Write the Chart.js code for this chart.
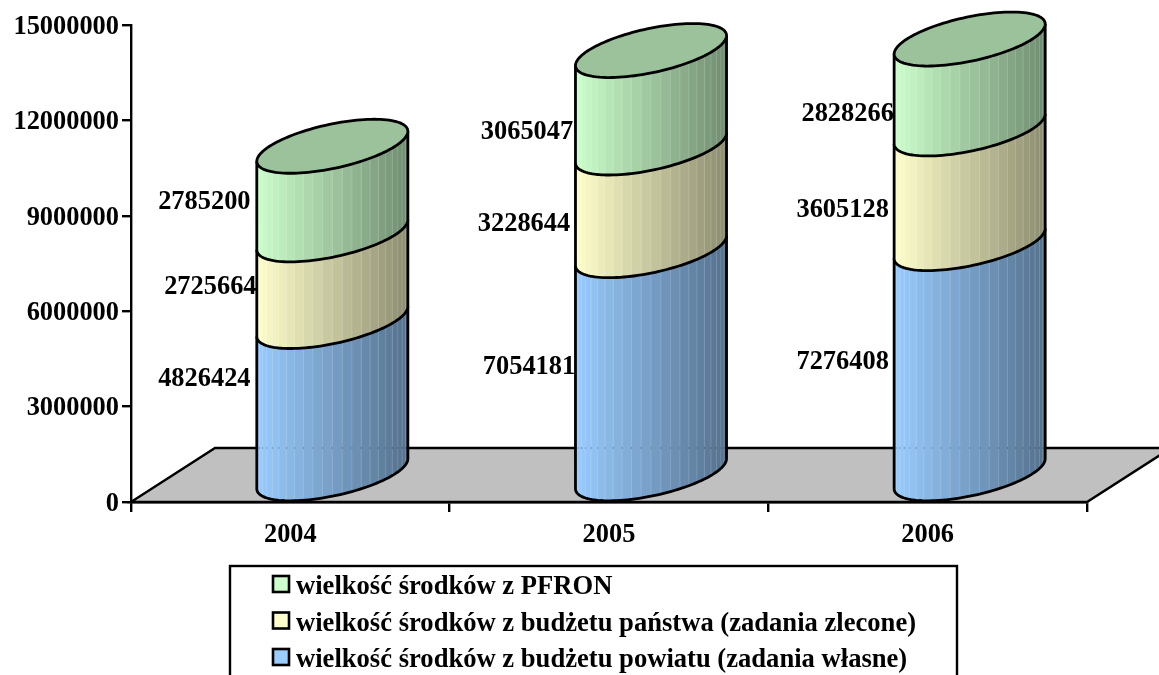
<!DOCTYPE html>
<html>
<head>
<meta charset="utf-8">
<style>
  html, body { margin: 0; padding: 0; background: #fff; overflow: hidden; }
  canvas { display: block; }
</style>
<script src="https://cdn.jsdelivr.net/npm/chart.js@4"></script>
</head>
<body>
<canvas id="chart" width="1159" height="675"></canvas>
<script>
'use strict';

const years = ['2004', '2005', '2006'];
const powiatValues = [4826424, 7054181, 7276408];
const panstwoValues = [2725664, 3228644, 3605128];
const pfronValues = [2785200, 3065047, 2828266];
const seriesNames = [
    'wielkość środków z budżetu powiatu (zadania własne)',
    'wielkość środków z budżetu państwa (zadania zlecone)',
    'wielkość środków z PFRON'
];
const seriesColors = [[153, 204, 255], [255, 255, 204], [204, 255, 204]];
const yTicks = [0, 3000000, 6000000, 9000000, 12000000, 15000000];

// hand placed labels in the original, offset from the middle of each segment
const labelOffsets = [
    [[-86, -45], [-80, -22], [-85, -24]],
    [[-80, -18], [-85, -2], [-85, -3]],
    [[-86, -15], [-82, 6], [-80, 3]]
];

const FONT = '"Liberation Serif", "Times New Roman", serif';
const DEPTH_X = 84, DEPTH_Y = 54;   // floor depth
const FACETS = 24;
const OUTLINE = 2.8;

const shade = (rgb, k) => `rgb(${rgb.map(c => Math.round(c * k)).join(',')})`;

// ── Floor ────────────────────────────────────────────────────────────────
function drawFloor(chart) {
    const { ctx, chartArea: a } = chart;
    ctx.save();
    ctx.beginPath();
    ctx.moveTo(a.left, a.bottom);
    ctx.lineTo(a.left + DEPTH_X, a.bottom - DEPTH_Y);
    ctx.lineTo(a.right + DEPTH_X, a.bottom - DEPTH_Y);
    ctx.lineTo(a.right, a.bottom);
    ctx.closePath();
    ctx.fillStyle = '#c0c0c0';
    ctx.fill();
    ctx.strokeStyle = '#000';
    ctx.lineWidth = 2.4;
    ctx.stroke();
    ctx.restore();
}

// ── Cylinders ────────────────────────────────────────────────────────────
function ellipsePoint(cx, cy, A, t) {
    const dx = DEPTH_X / 2, dy = DEPTH_Y / 2;
    return [cx + A * Math.cos(t) + dx * Math.sin(t), cy - dy * Math.sin(t)];
}

function drawSegment(ctx, bar, rgb, isTop, floorY) {
    const A = bar.width / 2;
    const cx = bar.x + DEPTH_X / 2;
    const yTop = bar.y - DEPTH_Y / 2, yBot = bar.base - DEPTH_Y / 2;
    const t0 = Math.atan2(DEPTH_X / 2, A);
    const tAt = i => t0 + Math.PI + (i / FACETS) * Math.PI;

    // front facets, light on the left and dark on the right
    for (let i = 0; i < FACETS; i++) {
        const p0 = ellipsePoint(cx, 0, A, tAt(i));
        const p1 = ellipsePoint(cx, 0, A, tAt(i + 1));
        const frac = ((p0[0] + p1[0]) / 2 - (cx - Math.hypot(A, DEPTH_X / 2))) / (2 * Math.hypot(A, DEPTH_X / 2));
        ctx.beginPath();
        ctx.moveTo(p0[0], yTop + p0[1]);
        ctx.lineTo(p1[0] + 0.5, yTop + p1[1]);
        ctx.lineTo(p1[0] + 0.5, yBot + p1[1]);
        ctx.lineTo(p0[0], yBot + p0[1]);
        ctx.closePath();
        ctx.fillStyle = shade(rgb, 1 - 0.45 * frac);
        ctx.fill();
        if (i > 0) {
            ctx.beginPath();
            ctx.moveTo(p0[0], yTop + p0[1]);
            ctx.lineTo(p0[0], yBot + p0[1]);
            ctx.strokeStyle = 'rgba(255,255,255,0.16)';
            ctx.lineWidth = 1;
            ctx.stroke();
            // the floor's back edge shows faintly through the seams
            if (yTop < floorY && yBot > floorY) {
                ctx.fillStyle = 'rgba(0,0,0,0.22)';
                ctx.fillRect(p0[0] - 0.5, floorY - 1, 1, 2);
            }
        }
    }

    // outline: sides and lower edge
    const left = ellipsePoint(cx, 0, A, tAt(0));
    const right = ellipsePoint(cx, 0, A, tAt(FACETS));
    ctx.beginPath();
    ctx.moveTo(left[0], yTop + left[1]);
    ctx.lineTo(left[0], yBot + left[1]);
    for (let i = 1; i <= 60; i++) {
        const p = ellipsePoint(cx, yBot, A, t0 + Math.PI + (i / 60) * Math.PI);
        ctx.lineTo(p[0], p[1]);
    }
    ctx.lineTo(right[0], yTop + right[1]);
    ctx.strokeStyle = '#000';
    ctx.lineWidth = OUTLINE;
    ctx.lineJoin = 'round';
    ctx.stroke();

    if (isTop) {
        ctx.beginPath();
        for (let i = 0; i <= 120; i++) {
            const p = ellipsePoint(cx, yTop, A, (i / 120) * Math.PI * 2);
            if (i === 0) ctx.moveTo(p[0], p[1]); else ctx.lineTo(p[0], p[1]);
        }
        ctx.closePath();
        ctx.fillStyle = shade(rgb, 0.76);
        ctx.fill();
        ctx.stroke();
    }
}

function drawLabels(chart) {
    const { ctx } = chart;
    ctx.save();
    ctx.font = `bold 26.4px ${FONT}`;
    ctx.fillStyle = '#000';
    ctx.textAlign = 'center';
    ctx.textBaseline = 'middle';
    chart.data.datasets.forEach((ds, d) => {
        chart.getDatasetMeta(d).data.forEach((bar, i) => {
            const [ox, oy] = labelOffsets[d][i];
            ctx.fillText(String(ds.data[i]), bar.x + ox, (bar.y + bar.base) / 2 + oy);
        });
    });
    ctx.restore();
}

// ── Legend ───────────────────────────────────────────────────────────────
function drawLegend(chart) {
    const { ctx } = chart;
    ctx.save();
    ctx.strokeStyle = '#000';
    ctx.lineWidth = 2.4;
    ctx.strokeRect(230, 566, 727, 130);
    ctx.font = `bold 26.6px ${FONT}`;
    ctx.textAlign = 'left';
    ctx.textBaseline = 'middle';
    [2, 1, 0].forEach((s, row) => {
        const y = 586 + row * 36.5;
        ctx.fillStyle = shade(seriesColors[s], 1);
        ctx.lineWidth = 2.6;
        ctx.fillRect(273, y - 10, 16, 16);
        ctx.strokeRect(273, y - 10, 16, 16);
        ctx.fillStyle = '#000';
        ctx.fillText(seriesNames[s], 296, y + 1.5);
    });
    ctx.restore();
}

const cylinderPlugin = {
    id: 'cylinders',
    beforeDatasetsDraw: drawFloor,
    afterDatasetsDraw(chart) {
        const { ctx, chartArea } = chart;
        ctx.save();
        const last = chart.data.datasets.length - 1;
        chart.data.datasets.forEach((ds, d) => {
            chart.getDatasetMeta(d).data.forEach(bar => {
                drawSegment(ctx, bar, seriesColors[d], d === last, chartArea.bottom - DEPTH_Y);
            });
        });
        ctx.restore();
        drawLabels(chart);
        drawLegend(chart);
    }
};

const makeDataset = (i, data) => ({
    label: seriesNames[i],
    data,
    backgroundColor: 'transparent',
    borderWidth: 0,
    categoryPercentage: 1,
    barPercentage: 0.394
});

new Chart(document.getElementById('chart').getContext('2d'), {
    type: 'bar',
    data: {
        labels: years,
        datasets: [makeDataset(0, powiatValues), makeDataset(1, panstwoValues), makeDataset(2, pfronValues)]
    },
    plugins: [cylinderPlugin],
    options: {
        animation: false,
        responsive: false,
        layout: { padding: { top: 25, right: 72 } },
        plugins: { legend: { display: false }, tooltip: { enabled: false } },
        scales: {
            x: {
                stacked: true,
                afterFit(s) { s.height = 173; },
                grid: { drawOnChartArea: false, drawTicks: true, tickLength: 10, color: '#000', lineWidth: 2.4 },
                border: { color: '#000', width: 2.4 },
                ticks: { color: '#000', font: { family: FONT, size: 26.4, weight: 'bold' }, padding: 7, maxRotation: 0 }
            },
            y: {
                stacked: true,
                min: yTicks[0],
                max: yTicks[yTicks.length - 1],
                afterFit(s) { s.width = 131; },
                afterBuildTicks(s) { s.ticks = yTicks.map(v => ({ value: v })); },
                grid: { drawOnChartArea: false, drawTicks: true, tickLength: 9, color: '#000', lineWidth: 2.4 },
                border: { color: '#000', width: 2.4 },
                ticks: {
                    color: '#000',
                    // empty first line + small line height nudges the text down 2px
                    font: { family: FONT, size: 26.4, weight: 'bold', lineHeight: '4px' },
                    padding: 3,
                    callback: v => ['', String(v)]
                }
            }
        }
    }
});
</script>
</body>
</html>
